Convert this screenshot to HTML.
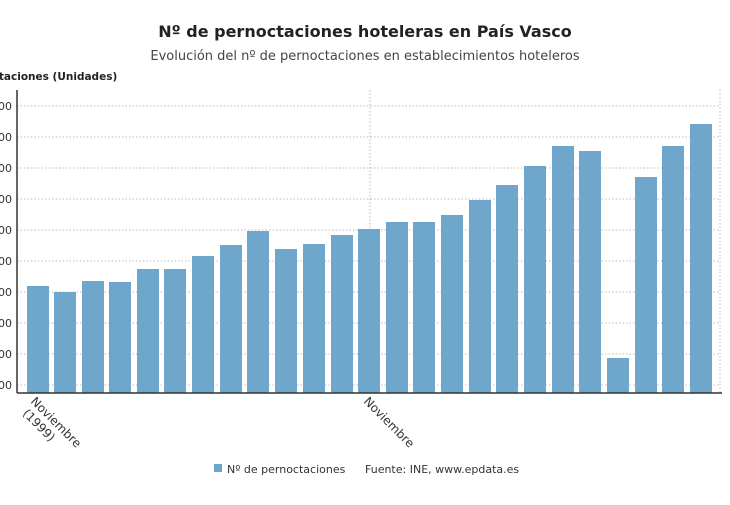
<!DOCTYPE html>
<html><head><meta charset="utf-8"><style>
body{margin:0;background:#fff;width:730px;height:500px;overflow:hidden;font-family:"Liberation Sans","DejaVu Sans",sans-serif}
</style></head><body>
<svg width="730" height="500" xmlns="http://www.w3.org/2000/svg" font-family="DejaVu Sans, Liberation Sans, sans-serif">
<text x="365" y="37" text-anchor="middle" font-size="16" font-weight="bold" fill="#222">Nº de pernoctaciones hoteleras en País Vasco</text>
<text x="365" y="60" text-anchor="middle" font-size="13" fill="#444">Evolución del nº de pernoctaciones en establecimientos hoteleros</text>
<text x="-42" y="80" font-size="10.5" font-weight="bold" fill="#222">Pernoctaciones (Unidades)</text>
<g stroke="#bbb" stroke-dasharray="1.5,2" stroke-width="1">
<line x1="17" x2="720" y1="106" y2="106"/><line x1="17" x2="720" y1="137" y2="137"/><line x1="17" x2="720" y1="168" y2="168"/><line x1="17" x2="720" y1="199" y2="199"/><line x1="17" x2="720" y1="230" y2="230"/><line x1="17" x2="720" y1="261" y2="261"/><line x1="17" x2="720" y1="292" y2="292"/><line x1="17" x2="720" y1="323" y2="323"/><line x1="17" x2="720" y1="354" y2="354"/><line x1="17" x2="720" y1="385" y2="385"/>
<line x1="370" x2="370" y1="90" y2="393"/><line x1="720" x2="720" y1="90" y2="393"/>
</g>
<g font-size="11" fill="#333" text-anchor="end">
<text x="12" y="110">00</text><text x="12" y="141">00</text><text x="12" y="172">00</text><text x="12" y="203">00</text><text x="12" y="234">00</text><text x="12" y="265">00</text><text x="12" y="296">00</text><text x="12" y="327">00</text><text x="12" y="358">00</text><text x="12" y="389">00</text>
</g>
<g fill="#6ea6cc">
<rect x="27" y="286" width="22" height="107"/><rect x="54" y="292" width="22" height="101"/><rect x="82" y="281" width="22" height="112"/><rect x="109" y="282" width="22" height="111"/><rect x="137" y="269" width="22" height="124"/><rect x="164" y="269" width="22" height="124"/><rect x="192" y="256" width="22" height="137"/><rect x="220" y="245" width="22" height="148"/><rect x="247" y="231" width="22" height="162"/><rect x="275" y="249" width="22" height="144"/><rect x="303" y="244" width="22" height="149"/><rect x="331" y="235" width="22" height="158"/><rect x="358" y="229" width="22" height="164"/><rect x="386" y="222" width="22" height="171"/><rect x="413" y="222" width="22" height="171"/><rect x="441" y="215" width="22" height="178"/><rect x="469" y="200" width="22" height="193"/><rect x="496" y="185" width="22" height="208"/><rect x="524" y="166" width="22" height="227"/><rect x="552" y="146" width="22" height="247"/><rect x="579" y="151" width="22" height="242"/><rect x="607" y="358" width="22" height="35"/><rect x="635" y="177" width="22" height="216"/><rect x="662" y="146" width="22" height="247"/><rect x="690" y="124" width="22" height="269"/>
</g>
<line x1="17" x2="17" y1="90" y2="393" stroke="#333" stroke-width="1.5"/>
<line x1="17" x2="722" y1="393" y2="393" stroke="#333" stroke-width="1.5"/>
<g font-size="12" fill="#333">
<text transform="translate(30,402) rotate(45)">Noviembre</text>
<text transform="translate(22,414) rotate(45)">(1999)</text>
<text transform="translate(363,402) rotate(45)">Noviembre</text>
</g>
<rect x="214" y="464" width="8" height="8" fill="#6ea6cc"/>
<text x="227" y="473" font-size="11" fill="#333">Nº de pernoctaciones</text>
<text x="365" y="473" font-size="11" fill="#333">Fuente: INE, www.epdata.es</text>
</svg>
</body></html>
